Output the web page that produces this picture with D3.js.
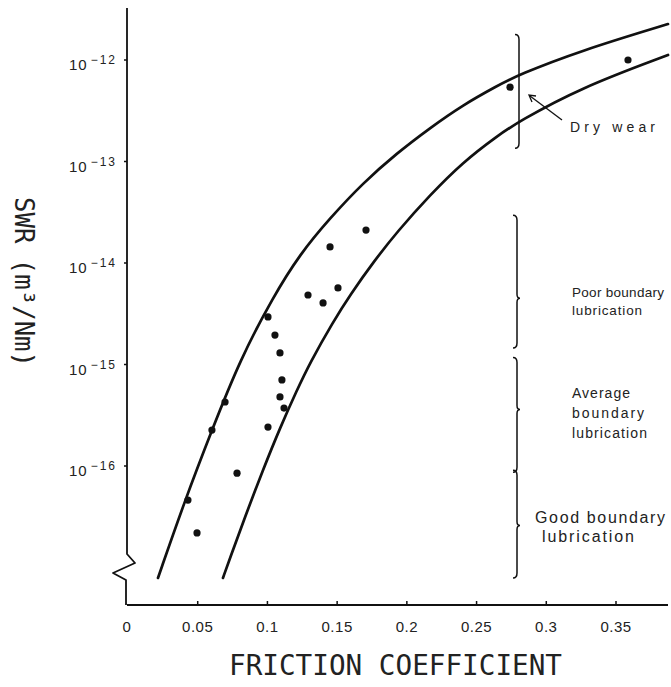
<!DOCTYPE html>
<html>
<head>
<meta charset="utf-8">
<script src="https://cdn.jsdelivr.net/npm/d3@7"></script>
<style>
  body { margin: 0; background: #fff; }
  svg { display: block; }
</style>
</head>
<body>
<div id="chart"></div>
<script>
// measured points: friction coefficient vs specific wear rate (m^3/Nm)
const pointFriction = [0.043, 0.0495, 0.0602, 0.0696, 0.0782, 0.1004, 0.1004, 0.1054, 0.109, 0.1104,
                       0.109, 0.1119, 0.1291, 0.1399, 0.1506, 0.1449, 0.1707, 0.274, 0.3586];
const pointSWR = [4.62e-17, 2.19e-17, 2.26e-16, 4.27e-16, 8.5e-17, 2.42e-16, 2.94e-15, 1.95e-15, 1.30e-15, 7.04e-16,
                  4.79e-16, 3.72e-16, 4.84e-15, 4.04e-15, 5.68e-15, 1.44e-14, 2.11e-14, 5.40e-13, 1.0e-12];

// upper bounding curve
const upperFriction = [0.0215, 0.0409, 0.0602, 0.0803, 0.104, 0.1234, 0.1449, 0.1685, 0.1929, 0.2166,
                       0.2403, 0.2647, 0.2797, 0.3242, 0.3873];
const upperSWR = [7.89e-18, 4.62e-17, 2.26e-16, 1.11e-15, 4.62e-15, 1.23e-14, 2.77e-14, 6.14e-14, 1.21e-13, 2.14e-13,
                  3.61e-13, 5.55e-13, 7.11e-13, 1.23e-12, 2.26e-12];

// lower bounding curve
const lowerFriction = [0.0681, 0.0732, 0.0839, 0.0968, 0.109, 0.1212, 0.1305, 0.147, 0.1592, 0.1771,
                       0.1929, 0.2166, 0.2403, 0.2647, 0.2797, 0.3242, 0.3873];
const lowerSWR = [7.89e-18, 1.24e-17, 3.15e-17, 9.14e-17, 2.37e-16, 5.61e-16, 1.04e-15, 2.62e-15, 4.84e-15, 1.07e-14,
                  2.02e-14, 4.68e-14, 9.89e-14, 1.78e-13, 2.45e-13, 5.30e-13, 1.12e-12];

// axes
const xTicks = [0, 0.05, 0.1, 0.15, 0.2, 0.25, 0.3, 0.35];
const xTickLabels = ["0", "0.05", "0.1", "0.15", "0.2", "0.25", "0.3", "0.35"];
const yTicks = [1e-12, 1e-13, 1e-14, 1e-15, 1e-16];
const yTickExponents = ["\u221212", "\u221213", "\u221214", "\u221215", "\u221216"];
const xTitle = "FRICTION  COEFFICIENT";
const yTitle = "SWR (m\u00b3/Nm)";

// lubrication regimes marked with braces on the right
const regimeLines = [["Dry wear"], ["Poor boundary", "lubrication"], ["Average", "boundary", "lubrication"], ["Good boundary", "lubrication"]];
const regimeTop = [1.78e-12, 2.95e-14, 1.17e-15, 9.1e-17];
const regimeBottom = [1.35e-13, 1.45e-15, 8.7e-17, 7.9e-18];
const regimeNotch = [null, 4.5e-15, 3.6e-16, 2.6e-17];

document.addEventListener("DOMContentLoaded", function () {

    function drawChart() {
        const width = 671;
        const height = 687;

        const svg = d3.select("#chart")
            .append("svg")
            .attr("width", width)
            .attr("height", height)
            .style("background", "#fff");

        const x = d3.scaleLinear().domain([0, 0.35]).range([128, 616]);
        const y = d3.scaleLog().domain([1e-16, 1e-12]).range([466, 60]);

        const axisX = 127;   // where the y axis is drawn
        const axisY = 605;   // where the x axis is drawn
        const ink = "#111";

        // y axis with a break near the bottom
        svg.append("path")
            .attr("d", `M${axisX},8 V554 L135,563 L113,573 L126,580 V${axisY}`)
            .attr("fill", "none")
            .attr("stroke", ink)
            .attr("stroke-width", 1.8)
            .attr("stroke-linejoin", "round");

        // x axis
        svg.append("line")
            .attr("x1", axisX).attr("x2", 668)
            .attr("y1", axisY).attr("y2", axisY)
            .attr("stroke", ink)
            .attr("stroke-width", 2.2);

        // x ticks point up, labels below
        const xt = svg.append("g");
        xt.selectAll("line")
            .data(xTicks.slice(1))
            .enter().append("line")
            .attr("x1", d => x(d)).attr("x2", d => x(d))
            .attr("y1", axisY).attr("y2", axisY - 4)
            .attr("stroke", ink)
            .attr("stroke-width", 1.5);
        xt.selectAll("text")
            .data(xTicks)
            .enter().append("text")
            .attr("x", d => d === 0 ? axisX : x(d))
            .attr("y", 632)
            .attr("text-anchor", "middle")
            .attr("font-family", "Liberation Sans, Arial, sans-serif")
            .attr("font-size", 15)
            .attr("letter-spacing", 0.5)
            .attr("fill", "#222")
            .text((d, i) => xTickLabels[i]);

        // y ticks and power-of-ten labels
        const yt = svg.append("g");
        yt.selectAll("line")
            .data(yTicks)
            .enter().append("line")
            .attr("x1", axisX - 3).attr("x2", axisX)
            .attr("y1", d => y(d)).attr("y2", d => y(d))
            .attr("stroke", ink)
            .attr("stroke-width", 1.5);
        const yLabels = yt.selectAll("text")
            .data(yTicks)
            .enter().append("text")
            .attr("x", 117)
            .attr("y", d => y(d) + 10)
            .attr("text-anchor", "end")
            .attr("font-family", "Liberation Sans, Arial, sans-serif")
            .attr("fill", "#222");
        yLabels.append("tspan")
            .attr("font-size", 15)
            .attr("letter-spacing", 1)
            .text("10");
        yLabels.append("tspan")
            .attr("dx", 3)
            .attr("dy", -6)
            .attr("font-size", 12)
            .attr("letter-spacing", 2)
            .text((d, i) => yTickExponents[i]);

        // axis titles
        svg.append("text")
            .attr("x", 229)
            .attr("y", 675)
            .attr("font-family", "DejaVu Sans Mono, monospace")
            .attr("font-size", 28)
            .attr("fill", "#222")
            .attr("textLength", 333)
            .attr("lengthAdjust", "spacingAndGlyphs")
            .text(xTitle);

        svg.append("text")
            .attr("transform", "translate(15,197) rotate(90)")
            .attr("font-family", "DejaVu Sans Mono, monospace")
            .attr("font-size", 27)
            .attr("fill", "#222")
            .attr("textLength", 170)
            .attr("lengthAdjust", "spacingAndGlyphs")
            .text(yTitle);

        // bounding curves, smoothed through the read-off points
        const line = d3.line()
            .x(d => x(d[0]))
            .y(d => y(d[1]))
            .curve(d3.curveBasis);

        [[upperFriction, upperSWR], [lowerFriction, lowerSWR]].forEach(([fx, fy]) => {
            svg.append("path")
                .datum(d3.zip(fx, fy))
                .attr("d", line)
                .attr("fill", "none")
                .attr("stroke", ink)
                .attr("stroke-width", 2.7)
                .attr("stroke-linecap", "round");
        });

        // data points
        svg.append("g")
            .selectAll("circle")
            .data(d3.zip(pointFriction, pointSWR))
            .enter().append("circle")
            .attr("cx", d => x(d[0]))
            .attr("cy", d => y(d[1]))
            .attr("r", 3.6)
            .attr("fill", ink);

        // braces for the lubrication regimes
        function bracePath(bx, y0, y1, yn) {
            const p = d3.path();
            p.moveTo(bx - 4, y0);
            p.quadraticCurveTo(bx, y0, bx, y0 + 5);
            if (yn !== null) {
                p.lineTo(bx, yn - 4);
                p.quadraticCurveTo(bx, yn, bx + 3, yn);
                p.quadraticCurveTo(bx, yn, bx, yn + 4);
            }
            p.lineTo(bx, y1 - 5);
            p.quadraticCurveTo(bx, y1, bx - 4, y1);
            return p.toString();
        }

        const braceX = [519, 517, 517, 517];
        const textX = [570, 572, 572, 535];
        const textBase = [132, 297, 398, 523];
        const textStep = [0, 18, 20, 19];
        const textSize = [14, 13.5, 14, 16];
        const textWidths = [[85], [92, 70], [58, 72, 75], [130, 92]];
        const textIndent = [[0], [0, 0], [0, 0, 0], [0, 7]];

        regimeLines.forEach((lines, i) => {
            const yn = regimeNotch[i] === null ? null : y(regimeNotch[i]);
            svg.append("path")
                .attr("d", bracePath(braceX[i], y(regimeTop[i]), y(regimeBottom[i]), yn))
                .attr("fill", "none")
                .attr("stroke", ink)
                .attr("stroke-width", 1.5);

            lines.forEach((t, j) => {
                svg.append("text")
                    .attr("x", textX[i] + textIndent[i][j])
                    .attr("y", textBase[i] + j * textStep[i])
                    .attr("font-family", "Liberation Sans, Arial, sans-serif")
                    .attr("font-size", textSize[i])
                    .attr("fill", "#222")
                    .attr("textLength", textWidths[i][j])
                    .attr("lengthAdjust", "spacing")
                    .text(t);
            });
        });

        // arrow from "Dry wear" to its brace
        svg.append("line")
            .attr("x1", 562).attr("y1", 120)
            .attr("x2", 530).attr("y2", 96)
            .attr("stroke", ink)
            .attr("stroke-width", 1.3);
        svg.append("path")
            .attr("d", "M536,96 L529,95 L532,102")
            .attr("fill", "none")
            .attr("stroke", ink)
            .attr("stroke-width", 1.3);
    }

    drawChart();
});
</script>
</body>
</html>
